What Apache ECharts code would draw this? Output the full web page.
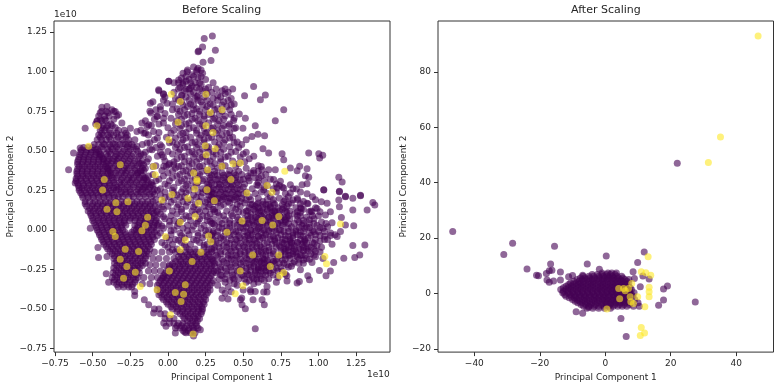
<!DOCTYPE html>
<html><head><meta charset="utf-8">
<style>html,body{margin:0;background:#fff}#c{width:780px;height:387px;filter:blur(0.35px)}</style>
<script src="https://cdn.jsdelivr.net/npm/echarts@6/dist/echarts.min.js"></script>
</head><body><div id="c"></div>
<script>
// values in units of 1e10: each row is [y, x, x, ...]
const beforeUpperRows=[
[1.03,.17],[1.022,.2],[1.01,.13,.22],[1,.19],[.99,.1,.23],[.98,.16],[.96,.09,.2],[.95,.14,.25],[.94,.005,.12],[.93,.07,.18],[.92,.1,.22],[.91,.16],[.9,.08,.19,.27],[.89,.14,.25],[.88,-.06,.11,.23,.36],[.87,.04,.17,.29,.4],[.86,-.03,.15,.26,.38],[.85,.09,.2,.33],
[.84,-.02,.12,.24,.35],[.83,.05,.18,.3,.42],[.81,-.1,.09,.22,.37],[.795,.03,.15,.28,.44],[.78,-.05,.13,.26,.39],[.765,.06,.19,.33],[.75,-.12,.08,.21,.36],[.735,-.02,.16,.29],[.72,-.07,.11,.24,.38],[.705,.02,.18,.31,.44],[.69,-.15,.06,.2,.34],[.675,-.03,.14,.27],[.66,-.11,.09,.23,.37],[.645,0,.17,.3,.45],[.63,-.18,.04,.19,.33],[.615,-.06,.12,.26,.41],[.6,-.13,.08,.22,.36],[.585,-.01,.15,.29,.43],[.57,-.09,.1,.24,.38,.52],[.555,.03,.18,.31,.46],[.54,-.17,.06,.2,.34,.49],[.525,-.04,.13,.27,.41],[.51,-.12,.08,.23,.37],[.495,0,.16,.3,.45],[.48,-.18,.03,.18,.32,.5],[.465,-.07,.11,.25,.4,.57],[.45,-.13,.06,.21,.35,.54],[.435,-.02,.14,.28,.43],[.42,-.19,.01,.16,.31,.47],[.405,-.08,.09,.23,.38,.6],[.39,-.15,.05,.19,.33,.52],[.375,-.04,.12,.26,.41,.57],
[.36,-.2,0,.15,.27,.36,.44,.55],[.35,-.1,.08,.21,.31,.4,.49,.65],[.33,-.16,.03,.18,.28,.37,.45,.58],[.32,-.06,.11,.24,.33,.41,.5,.68],[.3,-.11,.07,.2,.29,.38,.46,.6],[.29,-.02,.13,.26,.34,.42,.51,.72],[.27,-.15,.04,.17,.27,.34,.42,.5,.64,.76],[.26,-.05,.1,.23,.3,.38,.46,.56,.7,.83],[.24,.27,.35,.43,.52,.62,.72,.88],[.23,.31,.39,.47,.58,.66,.78],[.21,.29,.37,.45,.54,.68,.8,.96],[.2,.33,.41,.49,.6,.74,.86],[.19,.28,.36,.44,.52,.7,.83,.98],[.18,.32,.4,.48,.63,.77,.9]];
const beforeLobeRows=[
[.52,-.56,-.53,-.5],[.49,-.58,-.545,-.51,-.475],[.46,-.59,-.56,-.525,-.49,-.455],[.43,-.6,-.565,-.53,-.495,-.46,-.425],[.4,-.59,-.555,-.52,-.485,-.45,-.415],[.37,-.605,-.57,-.535,-.5,-.465,-.43,-.395],[.34,-.6,-.565,-.53,-.495,-.46,-.425,-.39],[.31,-.61,-.575,-.54,-.505,-.47,-.435,-.4],[.28,-.595,-.56,-.525,-.49,-.455,-.42,-.385],[.25,-.59,-.555,-.52,-.485,-.45,-.415,-.38,-.345],[.22,-.57,-.535,-.5,-.465,-.43,-.395,-.36],
[.505,-.575,-.54,-.51,-.48],[.475,-.585,-.55,-.515,-.48,-.45],[.445,-.595,-.56,-.53,-.495,-.46,-.43],[.415,-.6,-.57,-.535,-.5,-.465,-.43],[.385,-.6,-.57,-.535,-.5,-.465,-.43,-.4],[.355,-.605,-.57,-.54,-.505,-.47,-.435,-.4],[.325,-.61,-.58,-.545,-.51,-.475,-.44,-.405],[.295,-.6,-.565,-.53,-.495,-.46,-.425,-.39],[.265,-.59,-.57,-.535,-.5,-.465,-.43,-.395,-.36],[.235,-.58,-.545,-.51,-.475,-.44,-.405,-.37],[.205,-.565,-.53,-.495,-.46,-.425,-.39,-.355],
[.75,-.44,-.41,-.36],[.72,-.46,-.42,-.39,-.34],[.69,-.47,-.44,-.41],[.66,-.46,-.43,-.4,-.37],[.63,-.45,-.42,-.39,-.33,-.29],[.6,-.46,-.43,-.4,-.36,-.31,-.27],[.57,-.47,-.44,-.41,-.38,-.34,-.3,-.26,-.22],[.54,-.49,-.46,-.42,-.39,-.35,-.32,-.28,-.24],[.51,-.47,-.43,-.4,-.37,-.33,-.29,-.25,-.21],[.48,-.45,-.41,-.38,-.34,-.31,-.27,-.23],[.45,-.43,-.39,-.36,-.33,-.29,-.25,-.2],[.42,-.41,-.38,-.34,-.31,-.27,-.23,-.18],[.39,-.4,-.37,-.33,-.29,-.26,-.22,-.17],[.36,-.38,-.35,-.31,-.28,-.24,-.2],[.33,-.37,-.34,-.3,-.26,-.23,-.19,-.15],[.3,-.36,-.32,-.29,-.25,-.21,-.17,-.13],[.27,-.34,-.31,-.27,-.23,-.19,-.16,-.12],[.24,-.31,-.28,-.25,-.21,-.18,-.14,-.1],[.21,-.33,-.3,-.26,-.23,-.19,-.15,-.11],
[.545,-.43,-.365,-.3,-.26],[.525,-.44,-.38,-.34,-.27,-.23],[.495,-.46,-.39,-.35,-.3,-.26,-.2],[.465,-.44,-.4,-.35,-.32,-.28,-.24,-.19],[.435,-.4,-.37,-.34,-.3,-.26,-.22,-.17],[.405,-.39,-.35,-.32,-.28,-.24,-.2],[.375,-.385,-.34,-.3,-.27,-.22,-.18,-.16],[.345,-.375,-.33,-.29,-.25,-.21,-.17],[.315,-.36,-.31,-.27,-.24,-.2,-.16,-.14],[.285,-.35,-.31,-.27,-.23,-.19,-.15,-.11],[.255,-.33,-.29,-.25,-.2,-.17,-.13,-.09],[.225,-.32,-.28,-.24,-.2,-.16,-.12,-.09],[.74,-.45,-.4],[.7,-.45,-.42,-.36],[.67,-.48,-.38],[.645,-.44,-.41,-.35],[.61,-.44,-.38,-.34,-.28],[.585,-.45,-.39,-.33,-.28]];
const beforeBodyRows=[
[.18,-.55,-.52,-.485,-.45,-.415,-.38,-.345,-.31,-.275,-.24,-.205,-.17,-.135,-.1],[.15,-.54,-.505,-.47,-.435,-.4,-.365,-.33,-.295,-.26,-.225,-.19,-.155,-.12,-.085],[.12,-.53,-.495,-.46,-.425,-.39,-.355,-.32,-.285,-.25,-.215,-.18,-.145,-.11,-.075],[.09,-.51,-.475,-.44,-.405,-.37,-.335,-.3,-.265,-.23,-.195,-.16,-.125,-.09],[.06,-.5,-.465,-.43,-.395,-.36,-.325,-.29,-.255,-.22,-.185,-.15,-.115,-.08],[.03,-.48,-.445,-.41,-.375,-.34,-.305,-.28,-.22,-.2,-.165,-.13,-.095,-.07],[0,-.47,-.435,-.4,-.365,-.33,-.3,-.225,-.21,-.18,-.145,-.11,-.075],[-.03,-.455,-.42,-.385,-.35,-.315,-.28,-.245,-.21,-.175,-.14,-.105],[-.06,-.44,-.405,-.37,-.335,-.3,-.265,-.23,-.195,-.16,-.125,-.09],[-.09,-.425,-.39,-.355,-.32,-.285,-.25,-.215,-.18,-.145,-.11],[-.12,-.4,-.365,-.33,-.295,-.26,-.225,-.19,-.155,-.12],[-.15,-.37,-.335,-.3,-.265,-.23,-.195,-.16,-.13],[-.18,-.36,-.325,-.29,-.255,-.22,-.185,-.15],[-.21,-.355,-.32,-.285,-.25,-.215,-.18,-.15],[-.24,-.36,-.325,-.29,-.255,-.22,-.19],[-.27,-.365,-.33,-.295,-.26,-.225,-.19],[-.3,-.37,-.335,-.3,-.265,-.23,-.2],[-.33,-.36,-.325,-.29,-.255,-.22],[-.36,-.33,-.295,-.26,-.24],
[.165,-.55,-.5,-.465,-.43,-.395,-.36,-.325,-.29,-.255,-.22,-.185,-.15,-.115],[.135,-.52,-.485,-.45,-.415,-.38,-.345,-.31,-.275,-.24,-.205,-.17,-.135,-.1],[.105,-.515,-.48,-.445,-.41,-.375,-.34,-.305,-.27,-.235,-.2,-.165,-.13,-.095],[.075,-.5,-.46,-.425,-.39,-.355,-.32,-.285,-.25,-.215,-.18,-.145,-.11,-.075],[.045,-.49,-.455,-.42,-.385,-.35,-.315,-.29,-.19,-.155,-.12,-.085],[.015,-.475,-.44,-.405,-.37,-.335,-.31,-.2,-.165,-.13,-.095],[-.015,-.46,-.425,-.39,-.355,-.32,-.285,-.24,-.2,-.165,-.13,-.09],[-.045,-.445,-.41,-.375,-.34,-.305,-.27,-.235,-.2,-.165,-.13,-.1],[-.075,-.43,-.395,-.36,-.325,-.29,-.255,-.22,-.185,-.15,-.115],[-.105,-.41,-.375,-.34,-.305,-.27,-.235,-.2,-.165,-.13],[-.135,-.385,-.35,-.315,-.28,-.245,-.21,-.175,-.14],[-.165,-.355,-.32,-.285,-.25,-.215,-.18,-.145],[-.195,-.34,-.305,-.27,-.235,-.2,-.165],[-.225,-.34,-.305,-.27,-.235,-.2,-.17],[-.255,-.345,-.31,-.275,-.24,-.205],[-.285,-.35,-.315,-.28,-.245,-.21],[-.315,-.355,-.32,-.285,-.25,-.215],[-.345,-.34,-.305,-.27,-.235],
[-.14,-.09,-.04,.01,.05],[-.18,-.1,-.06,-.01,.04],[-.22,-.12,-.08,-.03,.01],[-.26,-.13,-.09,-.05],[-.3,-.16,-.11,-.07,-.03],[-.34,-.17,-.12]];
const beforeCenterRows=[
[.25,-.07,.03,.14,.25],[.24,-.02,.09,.2,.29],[.22,-.05,.06,.17,.27],[.21,.01,.11,.22],[.19,-.08,.04,.15,.26],[.18,-.03,.1,.21,.3],[.16,-.06,.07,.18,.28],[.15,0,.12,.24],[.13,-.03,.09,.2,.3],[.12,.03,.16,.25],[.1,-.05,.06,.18,.28],[.09,.02,.12,.23],[.07,-.02,.1,.21],[.06,.04,.15,.26],[.04,-.06,.07,.19,.29],[.03,.01,.13,.24],[.01,-.03,.1,.22],[0,.04,.16,.27],[-.02,-.05,.08,.2,.3],[-.03,.02,.14,.25],[-.05,-.01,.11,.23],[-.06,.05,.17,.28],[-.08,-.04,.09,.21],[-.09,.03,.15,.26],[-.11,0,.12,.24],[-.12,.06,.18,.29],
[.235,.04,.12,.23],[.205,-.02,.08,.19],[.175,.02,.13,.25],[.145,-.04,.06,.17,.27],[.115,-.07,.09,.21],[.085,-.03,.14,.26],[.055,.01,.08,.2,.28],[.025,-.04,.06,.17],[-.005,.02,.13,.25],[-.035,-.07,.09,.2,.29],[-.065,.01,.07,.19],[-.095,-.02,.11,.24],[-.125,.03,.14,.27],
[-.14,.08,.115,.15,.185,.22,.255,.29],[-.17,.07,.105,.14,.175,.21,.245,.28],[-.2,.05,.085,.12,.155,.19,.225,.26,.3],[-.23,.01,.045,.08,.115,.15,.185,.22,.255,.29],[-.26,-.01,.025,.06,.095,.13,.165,.2,.235,.27,.305],[-.29,-.03,.005,.04,.075,.11,.145,.18,.215,.25,.285],[-.32,-.05,-.015,.02,.055,.09,.125,.16,.195,.23,.265,.3],[-.35,-.07,-.035,0,.035,.07,.105,.14,.175,.21,.245,.28],[-.38,-.07,-.035,0,.035,.07,.105,.14,.175,.21,.245,.28],[-.41,-.06,-.025,.01,.045,.08,.115,.15,.185,.22,.255],[-.44,-.03,.005,.04,.075,.11,.145,.18,.215,.25],[-.47,0,.035,.07,.105,.14,.175,.21,.24],[-.5,.03,.065,.1,.135,.17,.205,.23,-.09,-.06],[-.53,.08,.115,.15,.185,.22,-.05,-.02],[-.56,.11,.145,.18,.21,-.02,.01,.04],[-.59,.15,.185,.01,.04,.07,.1],[-.62,.05,.08,.11,.14,.17,.2],[-.65,.12,.15,.18],[-.67,.17],
[-.155,.09,.13,.165,.2,.24,.27],[-.185,.08,.12,.155,.19,.225,.26,.29],[-.215,.03,.07,.1,.135,.17,.205,.24,.275],[-.245,.005,.04,.075,.11,.145,.18,.215,.25,.285],[-.275,-.02,.015,.05,.085,.12,.155,.19,.225,.26,.295],[-.305,-.04,-.005,.03,.065,.1,.135,.17,.205,.24,.275],[-.335,-.06,-.025,.01,.045,.08,.115,.15,.185,.22,.255,.29],[-.365,-.05,-.015,.02,.055,.09,.125,.16,.195,.23,.265],[-.395,-.05,-.015,.02,.055,.09,.125,.16,.195,.23,.265],[-.425,-.04,-.005,.03,.065,.1,.135,.17,.205,.24],[-.455,-.01,.025,.06,.095,.13,.165,.2,.235],[-.485,.02,.055,.09,.125,.16,.195,.225],[-.515,.06,.095,.13,.165,.2,.225],[-.545,.1,.135,.17,.2],[-.575,.13,.165,.195],[-.605,.06,.09,.125,.16,.19],[-.635,.1,.135,.17],
[.345,.29,.33,.37,.41,.45],[.315,.28,.32,.36,.4,.44,.48],[.285,.27,.31,.35,.39,.43,.47],[.255,.28,.32,.36,.4,.44,.48],[.225,.3,.34,.38,.42,.46,.5],[.2,.3,.34,.38,.42,.46]];
const beforeFieldRows=[
[.17,.33,.41,.51,.6,.7,.82],[.16,.37,.46,.56,.65,.76],[.15,.35,.48,.58,.68,.79],[.14,.43,.54,.63,.73,.85],[.13,.31,.45,.57,.66,.76,.9],[.12,.39,.52,.61,.71,.81,.95],[.11,.33,.5,.6,.69,.79,.88],[.1,.42,.55,.64,.74,.84],[.09,.37,.53,.62,.72,.86,1],[.08,.46,.58,.67,.77,.92],[.07,.3,.51,.6,.7,.81,.97],[.06,.41,.56,.65,.75,.9],[.05,.34,.48,.59,.68,.78,.87,1.02],[.04,.44,.54,.63,.73,.84,.94],[.03,.31,.46,.57,.66,.76,.89,.99],[.02,.39,.52,.61,.71,.82,.92,1.06],[.01,.36,.5,.6,.69,.8,.91,1.03],[0,.43,.55,.64,.74,.85,.96],[-.01,.33,.47,.58,.67,.77,.88,1],[-.02,.4,.53,.62,.72,.83,.94,1.08],[-.03,.29,.44,.56,.65,.75,.86,.98,1.11],[-.04,.37,.51,.6,.7,.8,.9,1.04],[-.05,.35,.48,.63,.73,.83,.93],[-.06,.42,.54,.68,.78,.88,1.06],[-.07,.32,.46,.58,.71,.81,.91,1.01],[-.08,.39,.52,.66,.76,.86,.96],[-.09,.3,.44,.56,.69,.79,.89,1.09],[-.1,.37,.5,.61,.74,.84,.99],[-.11,.34,.47,.59,.72,.82,.93],[-.12,.41,.53,.64,.77,.87,.97],[-.13,.31,.45,.57,.67,.8,.9],[-.14,.38,.51,.62,.75,.85,1.01],[-.15,.35,.48,.6,.7,.83,.95],[-.16,.42,.54,.65,.78,.88],[-.17,.33,.46,.58,.73,.86,.98],[-.18,.4,.52,.63,.81,.92,1.03],[-.19,.3,.44,.56,.66,.76,.9],[-.2,.37,.5,.61,.7,.84],[-.21,.34,.48,.64,.74,.87],[-.22,.41,.54,.68,.79],[-.23,.31,.45,.57,.66,.82],[-.24,.38,.52,.62,.72],[-.25,.35,.48,.6,.7],[-.26,.42,.55,.65,.76],[-.27,.32,.46,.58,.68],[-.28,.39,.53,.63,.78],[-.29,.36,.5,.61,.79],[-.3,.43,.56,.73],[-.31,.34,.47,.59],[-.32,.41,.54,.64],[-.33,.38,.52,.6],[-.34,.44,.57],[-.35,.33,.46],[-.36,.4],[-.38,.36,.5],[-.39,.42,.55],[-.4,.38],[-.43,.49],
[.16,.55,.59,.63,.67,.71],[.12,.53,.58,.62,.66,.7,.74,.78],[.08,.55,.59,.63,.67,.71,.75,.79],[.04,.53,.57,.61,.65,.69,.73,.77],[0,.55,.59,.63,.67,.71,.75],[-.04,.55,.6,.64,.68],[-.08,.82,.86,.9],[-.12,.78,.84,.88,.92],[-.16,.8,.85,.89],[-.2,.58,.62,.66,.7],[-.24,.6,.64]];
const beforeExtraRows=[
[.19,.55,.66,.78,.86],[.165,.8,.88,.93],[.14,.6,.68,.77,.88,.98],[.115,.31,.47,.71,.86,.94,1.01],[.09,.34,.43,.69,.8,.88,.96],[.065,.38,.47,.53,.78,.86,.94],[.04,.3,.36,.41,.5,.8,.9,.97,1.05],[.015,.34,.41,.48,.87,.94,1.01],[-.01,.3,.38,.45,.51,.8,.85,.9,.97,1.04],[-.035,.33,.41,.47,.53,.78,.83,.88,.95,1.01,1.08],[-.06,.3,.37,.45,.51,.57,.61,.71,.76,.81,.91,.98,1.04],[-.085,.34,.41,.48,.54,.59,.64,.72,.77,.82,.92,.97],[-.11,.31,.39,.44,.51,.56,.62,.67,.75,.8,.9,.95,1.02],[-.135,.35,.42,.48,.54,.6,.65,.7,.78,.83,.93,.98],[-.16,.32,.4,.45,.51,.57,.63,.68,.75,.81,.91,.97],[-.185,.36,.42,.48,.54,.59,.64,.72,.78,.87,.94],[-.21,.31,.39,.45,.52,.57,.62,.71,.77,.83,.9],[-.235,.35,.42,.49,.55,.6,.65,.75,.8],[-.26,.33,.39,.46,.52,.58,.62,.67,.73],[-.285,.35,.43,.49,.54,.59,.65,.7],[-.31,.38,.44,.51,.57,.62],
[.97,.12,.17,.22],[.93,.04,.1,.15,.21,.3],[.89,.07,.12,.21,.32,.38,.43],[.82,-.03,.07,.14,.2,.26,.33,.4],[.79,.1,.17,.23,.3,.36,.42],[.76,-.08,.03,.11,.17,.25,.31,.41],[.73,.07,.13,.21,.27,.34,.42],[.7,-.09,.09,.16,.24,.3,.37],[.67,-.06,.05,.12,.21,.33,.41],[.64,.08,.14,.24,.29,.36,.44],[.61,-.16,.02,.1,.19,.25,.32,.39],[.58,-.07,.05,.12,.21,.27,.34,.41],[.55,-.12,.01,.09,.16,.24,.37,.44],[.52,-.08,.05,.11,.19,.26,.33,.47],[.49,-.15,-.05,.07,.14,.21,.27,.35,.42,.52],[.46,-.03,.09,.17,.23,.3,.38,.48],[.43,-.14,.04,.11,.19,.26,.35,.51],[.4,-.1,-.01,.07,.14,.21,.29,.36,.45,.62],[.37,-.18,.03,.1,.17,.23,.31,.47,.6],[.34,-.13,-.03,.06,.13,.2,.53,.62],[.31,-.08,.01,.09,.16,.23,.54,.64],[.28,-.1,0,.12,.19,.6,.66,.74]];
const beforeOutliers=[[.241,1.21],[.295,1.225],[.23,1.155],[.204,1.13],[.315,1.135],[.233,1.06],[.286,1.07],[.2,1.126],[.127,1],[.193,1.01],[.071,.948],[.005,.94],[-.062,.885],[-.03,.857],[.093,.853],[.149,.895],[.193,.843],[-.006,.8],[-.05,.76],[-.117,.8],[-.113,.738],[-.073,.717],[-.173,.675],[-.128,.664],[-.029,.706],[.569,.906],[.647,.853],[.614,.822],[.509,.847],[.769,.759],[.713,.689],[.474,.733],[.514,.706],[.436,.691],[.403,.658],[.58,.658],[.498,.643],[.558,.591],[.598,.605],[.642,.595],[.669,.486],[.631,.513],[.935,.486],[1.002,.481],[1.028,.471],[1.008,.454],[.758,.481],[.769,.444],[1.135,.332],[1.157,.303],[1.035,.254],[.875,.402],[.924,.387],[.858,.374],[.913,.343],[.935,.332],[.924,.292],[.891,.286],[.924,.229],[1.139,.244],[1.279,.219],[1.179,.212],[.813,.286],[.813,.391],[.713,.38],[.669,.38],[.625,.38],[.569,.36],[.536,.328],[.603,.328],[.702,.318],[.747,.307],[.769,.265],[.853,.259],[.813,.234],[.724,.265],[.636,.254],[.591,.286],
[-.139,.654],[-.206,.622],[-.25,.643],[-.306,.675],[-.328,.727],[-.405,.78],[-.439,.775],[-.372,.759],[-.35,.748],[-.55,.643],[-.472,.685],[-.583,.517],[-.627,.486],[-.66,.38],[-.616,.296],[-.15,.612],[-.095,.622],[-.206,.528],[-.139,.549],[-.162,.475],[-.106,.507],[-.051,.538],[-.04,.475],[.005,.412],[.038,.412],[-.028,.402],[-.162,.412],
[-.516,.01],[-.465,-.111],[-.461,-.174],[-.405,-.168],[-.41,-.277],[-.394,-.33],[-.221,-.389],[-.221,-.414],[-.157,-.441],[-.128,-.473],[-.095,-.525],[-.028,-.588],[-.013,-.609],[.049,-.651],[.111,-.645],[.215,-.63],
[1.035,.252],[1.139,.241],[1.179,.21],[1.135,.189],[1.228,.2],[1.279,.216],[1.361,.174],[1.374,.157],[1.323,.126],[1.228,.126],[1.139,.147],[1.019,.178],[1.057,.168],[.99,.136],[.957,.115],[1.079,.115],[1.046,.094],[.886,.136],[.924,.168],[1.152,.078],[1.09,.046],[1.179,.031],[1.234,.027],[1.146,-.01],[1.124,-.042],[1.228,-.099],[1.308,-.095],[1.274,-.158],[1.241,-.174],[1.168,-.179],[1.101,-.206],[1.079,-.259],[1.05,-.29],[1.006,-.256],[.94,-.315],[.929,-.29],[.957,-.206],[.88,-.252],[.873,-.326],[.858,-.336],[.791,-.322],[.72,-.33],[.669,-.309],[.658,-.357],[.658,-.393],[.636,-.393],[.625,-.441],[.64,-.473],[.565,-.441],[.58,-.389],[.547,-.378],[.514,-.498],[.492,-.473],[.481,-.441],[.58,-.624],[.399,-.437],[.359,-.431]];
const beforeYellow=[[-.472,.658],[.022,.857],[.082,.811],[.067,.681],[.005,.57],[-.317,.412],[-.423,.318],[-.434,.252],[-.095,.4],[-.084,.349],[.171,.36],[.193,.307],[.178,.259],[.027,.223],[-.527,.528],[.252,.857],[.359,.759],[.281,.742],[.252,.658],[.299,.616],[.248,.532],[.314,.513],[.254,.475],[.263,.38],[.359,.402],[.432,.418],[.481,.423],[.192,.318],[.418,.318],[.525,.234],[.658,.28],[.691,.238],[.776,.37],[.259,.254],[-.405,.13],[-.339,.115],[-.346,.172],[-.266,.178],[-.04,.189],[.133,.2],[.082,.048],[-.135,.08],[-.15,.03],[-.173,-.006],[-.366,-.01],[-.35,-.042],[-.017,-.042],[.116,-.063],[-.284,-.122],[-.195,-.137],[-.317,-.185],[.082,-.126],[.16,-.2],[-.273,-.231],[.009,-.259],[-.217,-.267],[-.295,-.305],[-.184,-.357],[-.073,-.378],[.049,-.395],[.104,-.406],[.115,-.347],[.087,-.452],[.167,-.658],[.016,-.536],[.308,.185],[.203,.168],[.492,.057],[.625,.059],[.696,.031],[.736,.084],[1.146,.038],[.181,.084],[.27,-.038],[.285,-.074],[.392,-.015],[.219,-.141],[.563,-.158],[.736,-.158],[.68,-.231],[.48,-.259],[.742,-.288],[.769,-.269],[.498,-.353],[.447,-.403],[1.042,-.168],[1.053,-.214]];
const afterBlobRows=[
[7.4,-1,.8,2,3.4],[6.2,-6.8,-5,-3.6,-2,-.6,.8,2.2,3.6,5],[5,-8.6,-7,-5.6,-4,-2.6,-1,.4,1.8,3.2,4.6,6,7.2],[3.8,-10.6,-9,-7.6,-6,-4.4,-3,-1.4,0,1.6,3,4.4,5.8,7.2],[2.6,-12,-10.4,-9,-7.4,-6,-4.4,-3,-1.4,0,1.4,2.8,4.2,5.6,7],[1.4,-13.6,-12,-10.6,-9,-7.6,-6,-4.6,-3,-1.6,-.2,1.2,2.6,4,5.4,6.8,8],[.2,-13,-11.4,-10,-8.4,-7,-5.4,-4,-2.4,-1,.4,1.8,3.2,4.6,6,7.4,8.8],[-1,-12,-10.4,-9,-7.4,-6,-4.4,-3,-1.4,0,1.4,2.8,4.2,5.6,7,8.4],[-2.2,-10,-8.6,-7,-5.6,-4,-2.6,-1,.4,1.8,3.2,4.6,6,7.4,9],[-3.4,-8.4,-7,-5.4,-4,-2.4,-1,.4,1.8,3.2,4.6,6,7.6,10],[-4.6,-6.6,-5,-3.4,-2,-.4,1,2.4,3.8,5.2,6.6,8.6,10.4],[-5.4,-5.6,-3.8,-2,-.2,1.6],
[6.8,-4,-2.4,-1,.4,1.6,3],[5.6,-7.6,-6.2,-4.8,-3.2,-1.8,-.2,1.2,2.6,4,5.4],[4.4,-9.6,-8,-6.6,-5,-3.6,-2,-.6,.8,2.4,3.8,5.2,6.6],[3.2,-11.2,-9.8,-8.2,-6.8,-5.2,-3.8,-2.2,-.8,.8,2.2,3.6,5,6.4],[2,-12.8,-11.2,-9.8,-8.2,-6.8,-5.2,-3.8,-2.2,-.8,.6,2,3.4,4.8,6.2,7.6],[.8,-12.8,-11.4,-9.8,-8.4,-6.8,-5.4,-3.8,-2.4,-1,.6,2,3.4,4.8,6.2,7.4],[-.4,-12.4,-10.8,-9.4,-7.8,-6.4,-4.8,-3.4,-1.8,-.4,1,2.4,3.8,5.2,6.6,8],[-1.6,-11,-9.4,-8,-6.4,-5,-3.4,-2,-.6,.8,2.4,3.6,5,6.4],[-2.8,-9.2,-7.8,-6.2,-4.8,-3.2,-1.8,-.2,1,2.4,3.8,5.4,6.8],[-4,-7.4,-6,-4.4,-3,-1.2,.2,1.6,3,4.4,5.8,7.4]];
const afterPurple=[[-46.6,22.4],[-31,14.1],[-28.3,18.1],[-15.5,17],[-23.9,8.8],[-21,6.6],[-20.4,6.4],[-16.7,10.6],[-16.3,8.4],[-17.1,8.2],[-18,7.2],[-13.7,7.7],[-17.8,4.8],[-17.1,4],[-15.8,4.5],[-13.7,4.8],[-11.2,6],[-10,6.5],[-5.5,10.6],[-1.8,8.7],[-6.9,6.6],[-8.9,-6.6],[-6.9,-7.2],[-5.1,-5],[.3,13.5],[11.9,15],[9.9,11.2],[8.5,7.8],[11.5,6.3],[13.4,5.2],[8.9,5.4],[10.7,2.4],[17.8,1.6],[19,2.7],[17.8,-2.4],[16.3,-4.3],[27.5,-3.1],[4.8,-9.1],[6.4,-15.6],[22,47]];
const afterYellow=[[46.7,93],[35.2,56.5],[31.5,47.3],[13.1,13.2],[11,7.8],[12.4,7.5],[13.9,6.6],[13.4,2.2],[13.4,.6],[13.4,-1.2],[12.1,-4.8],[.5,-5.6],[11,-12.3],[12,-14.3],[10.7,-15.2],[4.4,-1.9],[5.6,1.8],[7.1,1.8],[6.1,1],[4.1,1.8],[8.1,3.6],[9.9,-1.2],[7.8,-3],[8.6,-3.6],[7.6,-1.2]];
const xTicksBefore=[-.75,-.5,-.25,0,.25,.5,.75,1,1.25];
const yTicksBefore=[-.75,-.5,-.25,0,.25,.5,.75,1,1.25];
const xTicksAfter=[-40,-20,0,20,40];
const yTicksAfter=[-20,0,20,40,60,80];
const expand=rows=>rows.flatMap(([y,...xs])=>xs.map(x=>[x,y]));
const beforePurple=[beforeUpperRows,beforeLobeRows,beforeBodyRows,beforeCenterRows,beforeFieldRows,beforeExtraRows].flatMap(expand).concat(beforeOutliers);
const afterAllPurple=expand(afterBlobRows).concat(afterPurple);
const FONT='"DejaVu Sans"',TXT='#262626';
const minus=s=>s.replace('-','\u2212');
function axis(name,min,max,ticks,fmt,pos,gap){
 return {type:'value',min,max,scale:true,position:pos,name,nameLocation:'middle',nameGap:gap,
  nameTextStyle:{fontFamily:FONT,fontSize:9,color:TXT},
  axisLine:{show:false,onZero:false},splitLine:{show:false},
  axisTick:{show:true,length:4,inside:false,customValues:ticks,lineStyle:{color:'#333',width:1}},
  axisLabel:{show:true,customValues:ticks,margin:7,fontFamily:FONT,fontSize:9,color:TXT,formatter:v=>minus(fmt(v))}};
}
const sc=(i,data,color,z)=>({type:'scatter',xAxisIndex:i,yAxisIndex:i,data,symbolSize:7,z,itemStyle:{color,opacity:.6,borderWidth:0},silent:true,progressive:0,large:false});
const t=(text,left,top,size)=>({text,left,top,padding:0,textStyle:{fontFamily:FONT,fontSize:size,fontWeight:'normal',color:TXT}});
const chart=echarts.init(document.getElementById('c'),null,{renderer:'canvas'});
chart.setOption({animation:false,backgroundColor:'#fff',
 title:[t('Before Scaling',182,5,11),t('After Scaling',571,5,11),t('1e10',54,10,9),t('1e10',367,370,9)],
 grid:[{left:54,top:21,width:336,height:332,show:true,borderColor:'#333',borderWidth:1,backgroundColor:'#fff'},{left:438,top:21,width:335.5,height:331.5,show:true,borderColor:'#333',borderWidth:1,backgroundColor:'#fff'}],
 xAxis:[Object.assign(axis('Principal Component 1',-.757,1.475,xTicksBefore,v=>v.toFixed(2),'bottom',19),{gridIndex:0}),Object.assign(axis('Principal Component 1',-51.1,51.4,xTicksAfter,v=>String(v),'bottom',19),{gridIndex:1})],
 yAxis:[Object.assign(axis('Principal Component 2',-.772,1.32,yTicksBefore,v=>v.toFixed(2),'left',35),{gridIndex:0}),Object.assign(axis('Principal Component 2',-21.2,98.4,yTicksAfter,v=>String(v),'left',25),{gridIndex:1})],
 series:[sc(0,beforePurple,'#440154',2),sc(0,beforeYellow,'#fde725',3),sc(1,afterAllPurple,'#440154',2),sc(1,afterYellow,'#fde725',3)]
});
</script></body></html>
